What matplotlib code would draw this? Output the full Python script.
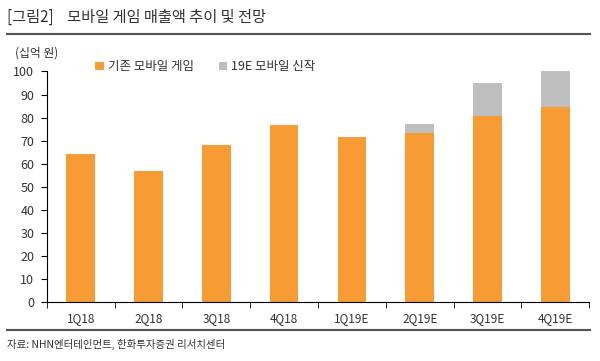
import numpy as np
import matplotlib
matplotlib.use("Agg")
import matplotlib.pyplot as plt

plt.rcParams['font.family'] = ['Noto Sans CJK KR', 'DejaVu Sans']

quarters = ['1Q18', '2Q18', '3Q18', '4Q18', '1Q19E', '2Q19E', '3Q19E', '4Q19E']
existing = [64, 57, 68, 77, 71.5, 73.5, 80.5, 84.5]
new_games = [0, 0, 0, 0, 0, 3.7, 14.6, 15.8]

orange = '#F79B35'
gray = '#BFBFBF'
txt = '#333333'

fig = plt.figure(figsize=(6, 3.61), dpi=100)
ax = fig.add_axes([0.078, 0.1634, 0.904, 0.6386])

x = np.arange(len(quarters))
ax.bar(x, existing, width=0.42, color=orange, label='기존 모바일 게임', zorder=2)
ax.bar(x, new_games, width=0.42, bottom=existing, color=gray, label='19E 모바일 신작', zorder=2)

ax.set_xlim(-0.5, len(quarters) - 0.5)
ax.set_ylim(0, 100)
ax.set_yticks(np.arange(0, 101, 10))
ax.set_xticks(x)
ax.set_xticklabels(quarters)
ax.set_xticks(np.arange(-0.5, len(quarters), 1), minor=True)
ax.tick_params(axis='x', which='major', length=0, pad=7, labelsize=8.5, labelcolor=txt)
ax.tick_params(axis='x', which='minor', length=4, direction='out', color='black')
ax.tick_params(axis='y', length=4, direction='out', labelsize=9, labelcolor=txt, pad=5)

for s in ['top', 'right']:
    ax.spines[s].set_visible(False)
ax.spines['left'].set_color('black')
ax.spines['bottom'].set_color('black')

ax.legend(loc='center left', bbox_to_anchor=(0.08, 1.02), ncol=2, frameon=False,
          fontsize=9, handlelength=0.7, handleheight=0.7, handletextpad=0.3,
          columnspacing=2.0, labelcolor=txt, borderaxespad=0)

fig.text(0.025, 0.853, '(십억 원)', fontsize=8.5, color=txt, va='center')

# header and footer
fig.text(0.012, 0.952, '[그림2]    모바일 게임 매출액 추이 및 전망', fontsize=11, color=txt, va='center')
fig.add_artist(plt.Line2D([0.012, 0.983], [0.905, 0.905], color='#555555', lw=1.5))
fig.add_artist(plt.Line2D([0.012, 0.983], [0.087, 0.087], color='#555555', lw=1.5))
fig.text(0.012, 0.045, '자료: NHN엔터테인먼트, 한화투자증권 리서치센터', fontsize=7.5, color=txt, va='center')

fig.savefig('out.png', dpi=100)
